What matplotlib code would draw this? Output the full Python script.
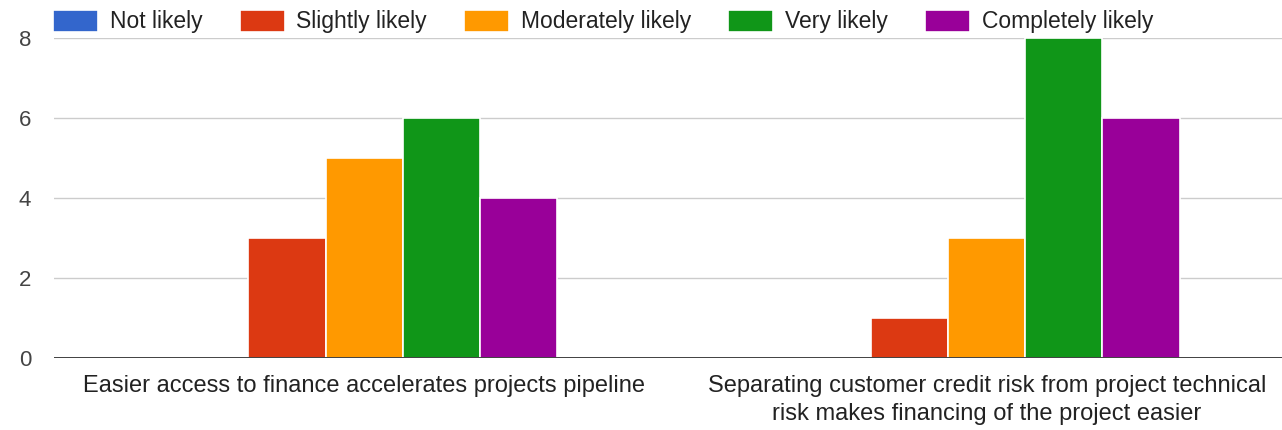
import matplotlib.pyplot as plt
import numpy as np

plt.rcParams["font.family"] = ["Liberation Sans", "DejaVu Sans"]

categories = [
    "Easier access to finance accelerates projects pipeline",
    "Separating customer credit risk from project technical\nrisk makes financing of the project easier",
]
series = ["Not likely", "Slightly likely", "Moderately likely", "Very likely", "Completely likely"]
values = [
    [0, 0],
    [3, 1],
    [5, 3],
    [6, 8],
    [4, 6],
]
colors = ["#3366cc", "#dc3912", "#ff9900", "#109618", "#990099"]
yticks = [0, 2, 4, 6, 8]

W, H = 1282, 430
fig = plt.figure(figsize=(W / 100, H / 100), dpi=100)
ax = fig.add_axes([54 / W, 1 - 358 / H, 1 - 54 / W, 320 / H])

x = np.arange(len(categories))
w = 0.1238
for i, (name, vals, c) in enumerate(zip(series, values, colors)):
    ax.bar(x + (i - 2) * w, vals, width=w, color=c, edgecolor="white",
           linewidth=1.2, label=name, zorder=3)

ax.set_xlim(-0.498, 1.474)
ax.set_ylim(0, 8)
ax.set_yticks(yticks)
ax.grid(axis="y", color="#cccccc", linewidth=1, zorder=0)
ax.axhline(0, color="#333333", linewidth=1.3, zorder=4)
for s in ax.spines.values():
    s.set_visible(False)
ax.set_xticks(x)
ax.set_xticklabels(categories, fontsize=17, color="#222222", linespacing=1.36)
ax.tick_params(axis="x", length=0, pad=12)
ax.tick_params(axis="y", length=0, pad=16.5, labelsize=16, labelcolor="#444444")

# legend row along the top
fs = 16.5
fig.legend(loc="center left", bbox_to_anchor=(53 / W, 1 - 21.5 / H), ncol=5,
           frameon=False, fontsize=fs, borderpad=0, borderaxespad=0,
           handlelength=1.96, handleheight=1.1, handletextpad=0.52,
           columnspacing=1.62, labelcolor="#222222")

fig.savefig("out.png", dpi=100)
